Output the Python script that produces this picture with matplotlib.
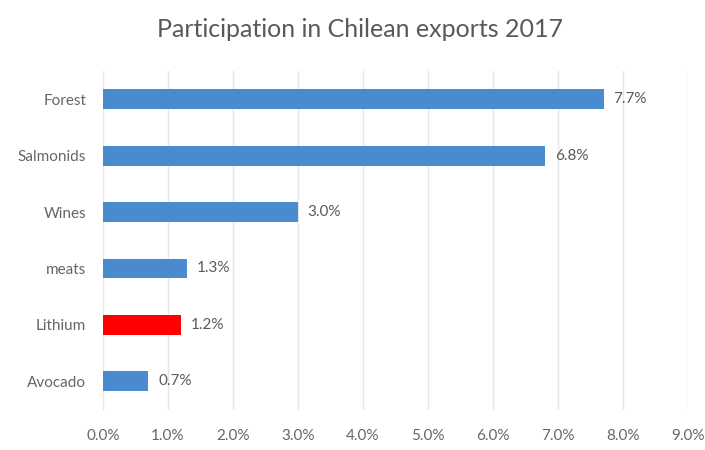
import matplotlib
matplotlib.use('Agg')
import matplotlib.pyplot as plt
from matplotlib.ticker import FuncFormatter

categories = ['Forest', 'Salmonids', 'Wines', 'meats', 'Lithium', 'Avocado']
shares = [7.7, 6.8, 3.0, 1.3, 1.2, 0.7]
bar_colors = ['#4a8bd0', '#4a8bd0', '#4a8bd0', '#4a8bd0', '#ff0000', '#4a8bd0']
x_ticks = [0, 1, 2, 3, 4, 5, 6, 7, 8, 9]

plt.rcParams['font.family'] = ['Lato', 'DejaVu Sans']

fig = plt.figure(figsize=(7.05, 4.5), dpi=100)
ax = fig.add_axes([0.146, 0.09, 0.83, 0.752])

pos = list(range(len(categories)))[::-1]  # first category on top
ax.barh(pos, shares, height=0.35, color=bar_colors, zorder=3)

for y, v in zip(pos, shares):
    ax.text(v + 0.15, y, '%.1f%%' % v, va='center', ha='left', fontsize=11, color='#595959')

ax.set_xlim(0, 9)
ax.set_ylim(-0.5, 5.5)
ax.set_xticks(x_ticks)
ax.xaxis.set_major_formatter(FuncFormatter(lambda v, p: '%.1f%%' % v))
ax.set_yticks(pos)
ax.set_yticklabels(categories)
ax.tick_params(axis='both', length=0, labelsize=11, colors='#666666')
ax.tick_params(axis='x', pad=14)
ax.tick_params(axis='y', pad=12)
ax.grid(axis='x', color='#e6e6e6', linewidth=1, zorder=0)
for s in ax.spines.values():
    s.set_visible(False)

fig.suptitle('Participation in Chilean exports 2017', x=0.51, y=0.96, fontsize=18, color='#595959')

fig.savefig('out.png', dpi=100)
